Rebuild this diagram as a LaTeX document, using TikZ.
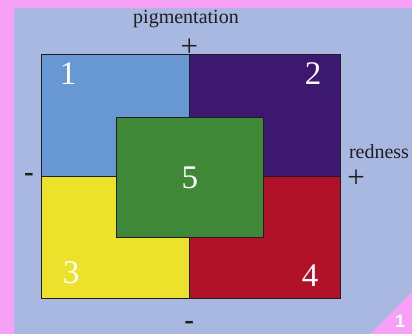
\documentclass[tikz,border=0pt]{standalone}
\usepackage{xcolor}
\usepackage{fontspec}
\setmainfont{Liberation Serif}
\setsansfont{Liberation Sans}
\usepackage{tikz}
\usetikzlibrary{positioning}
\definecolor{framepink}{RGB}{246,160,246}
\definecolor{bgblue}{RGB}{168,184,224}
\definecolor{cellblue}{RGB}{104,152,212}
\definecolor{cellpurple}{RGB}{60,24,112}
\definecolor{cellyellow}{RGB}{236,226,44}
\definecolor{cellred}{RGB}{178,18,40}
\definecolor{cellgreen}{RGB}{62,136,56}
\definecolor{inkdark}{RGB}{30,30,30}
\tikzset{
  cell/.style={rectangle, draw=inkdark, line width=0.9pt, inner sep=0pt},
  num/.style={text=white, font=\fontsize{33}{36}\selectfont, inner sep=0pt},
  axislabel/.style={text=inkdark, font=\fontsize{20}{22}\selectfont, inner sep=0pt},
  sign/.style={text=inkdark, font=\fontsize{31}{32}\selectfont, inner sep=0pt},
  minus/.style={text=inkdark, font=\fontsize{29}{30}\selectfont\bfseries, inner sep=0pt}
}

\begin{document}
\begin{tikzpicture}[x=1pt, y=-1pt]
  \useasboundingbox (0,0) rectangle (412,334);

  % Frame and background
  \fill[framepink] (0,0) rectangle (412,334);
  \fill[bgblue] (14,8) rectangle (412,334);
  \fill[framepink] (370,334) -- (412,292) -- (412,334) -- cycle;
  \node[text=white, font=\sffamily\bfseries\fontsize{18}{20}\selectfont, inner sep=0pt] (tag) at (400,321) {1};

  % Quadrants
  \node[cell, fill=cellblue, minimum width=147.6pt, minimum height=122.4pt] (q1) at (115.5,115.5) {};
  \node[cell, fill=cellpurple, minimum width=151.4pt, minimum height=122.4pt] (q2) at (265,115.5) {};
  \node[cell, fill=cellyellow, minimum width=147.6pt, minimum height=121.6pt] (q3) at (115.5,237.5) {};
  \node[cell, fill=cellred, minimum width=151.4pt, minimum height=121.6pt] (q4) at (265,237.5) {};

  % Centre region
  \node[cell, fill=cellgreen, minimum width=147pt, minimum height=120.4pt] (q5) at (189.8,177.5) {};

  % Region numbers
  \node[num] (n1) at (68,74) {1};
  \node[num] (n2) at (313,74) {2};
  \node[num] (n3) at (71,273) {3};
  \node[num] (n4) at (310,276) {4};
  \node[num] (n5) at (q5.center) {5};

  % Axes
  \node[axislabel] (pig) at (186,19) {pigmentation};
  \node[sign] (pigplus) at (189.3,47.5) {+};
  \node[minus] (pigminus) at (189.3,325) {-};
  \node[axislabel] (red) at (379,152) {redness};
  \node[sign] (redplus) at (356,179) {+};
  \node[minus] (redminus) at (29,177) {-};
\end{tikzpicture}
\end{document}
